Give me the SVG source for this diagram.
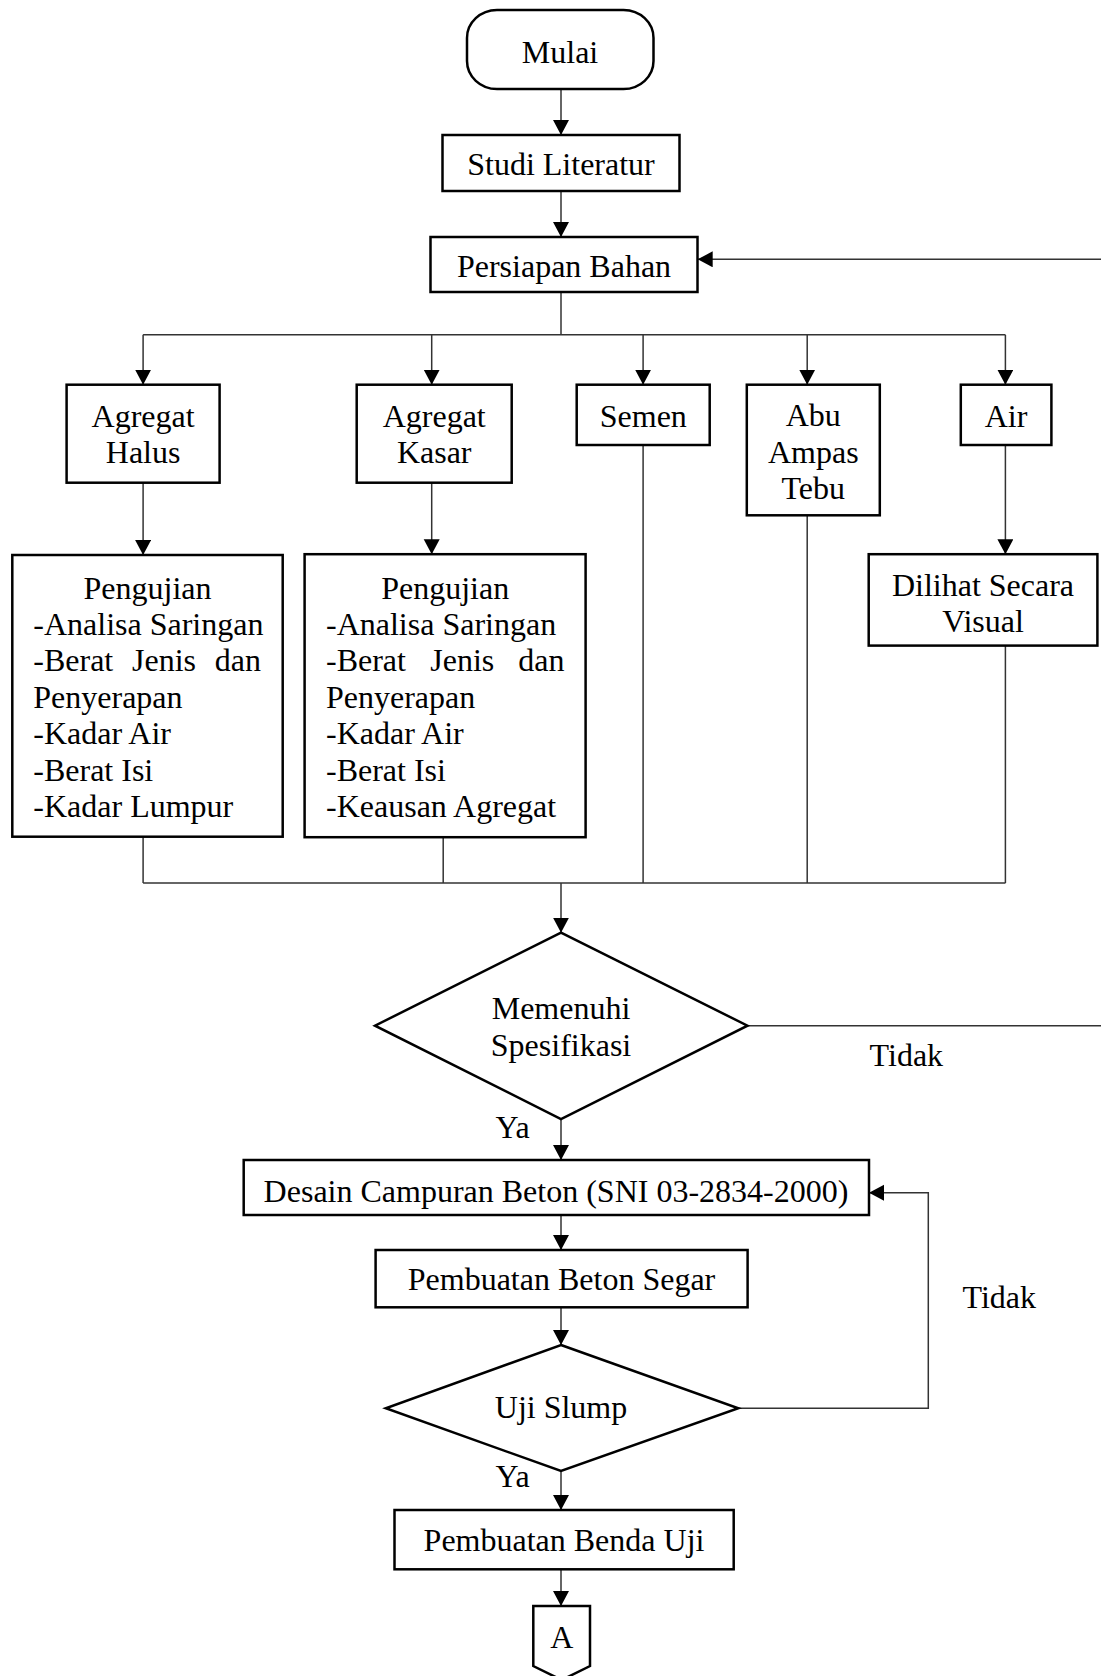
<svg xmlns="http://www.w3.org/2000/svg" width="1101" height="1676" viewBox="0 0 1101 1676">
<style>
.box{fill:#fff;stroke:#000;stroke-width:2.5}
.t{font-family:"Liberation Serif","Times New Roman",serif;font-size:32px;fill:#000}
.c{text-anchor:middle}
.e{text-anchor:end}
.ln{fill:none;stroke:#333;stroke-width:1.5}
</style>
<defs>
<marker id="ah" markerUnits="userSpaceOnUse" markerWidth="17" markerHeight="17" refX="15" refY="8" orient="auto">
<path d="M0,0 L15,8 L0,16 Z" fill="#000"/>
</marker>
</defs>
<rect width="1101" height="1676" fill="#fff"/>
<g id="connectors">
<line class="ln" x1="561" y1="89" x2="561" y2="135" marker-end="url(#ah)"/>
<line class="ln" x1="561" y1="191" x2="561" y2="237" marker-end="url(#ah)"/>
<line class="ln" x1="561" y1="292" x2="561" y2="334.8"/>
<line class="ln" x1="143.1" y1="334.8" x2="1005.4" y2="334.8"/>
<line class="ln" x1="143.1" y1="334.8" x2="143.1" y2="384.7" marker-end="url(#ah)"/>
<line class="ln" x1="431.7" y1="334.8" x2="431.7" y2="384.7" marker-end="url(#ah)"/>
<line class="ln" x1="643.1" y1="334.8" x2="643.1" y2="384.7" marker-end="url(#ah)"/>
<line class="ln" x1="807.2" y1="334.8" x2="807.2" y2="384.7" marker-end="url(#ah)"/>
<line class="ln" x1="1005.4" y1="334.8" x2="1005.4" y2="384.7" marker-end="url(#ah)"/>
<line class="ln" x1="143.1" y1="482.8" x2="143.1" y2="555" marker-end="url(#ah)"/>
<line class="ln" x1="431.7" y1="482.8" x2="431.7" y2="554.2" marker-end="url(#ah)"/>
<line class="ln" x1="1005.4" y1="445" x2="1005.4" y2="554.2" marker-end="url(#ah)"/>
<line class="ln" x1="143.1" y1="836.7" x2="143.1" y2="883.1"/>
<line class="ln" x1="443.2" y1="837.2" x2="443.2" y2="883.1"/>
<line class="ln" x1="643.1" y1="445" x2="643.1" y2="883.1"/>
<line class="ln" x1="807.2" y1="515.3" x2="807.2" y2="883.1"/>
<line class="ln" x1="1005.4" y1="645.6" x2="1005.4" y2="883.1"/>
<line class="ln" x1="143.1" y1="883.1" x2="1005.4" y2="883.1"/>
<line class="ln" x1="561" y1="883.1" x2="561" y2="932.7" marker-end="url(#ah)"/>
<path class="ln" d="M747.5,1025.7 H1115 V259.3 H697.7" marker-end="url(#ah)"/>
<line class="ln" x1="561" y1="1119" x2="561" y2="1160" marker-end="url(#ah)"/>
<line class="ln" x1="561" y1="1215" x2="561" y2="1250" marker-end="url(#ah)"/>
<line class="ln" x1="561" y1="1307.3" x2="561" y2="1345" marker-end="url(#ah)"/>
<path class="ln" d="M738.3,1408.3 H928.3 V1192.7 H869" marker-end="url(#ah)"/>
<line class="ln" x1="561" y1="1471" x2="561" y2="1510" marker-end="url(#ah)"/>
<line class="ln" x1="561" y1="1569.3" x2="561" y2="1606" marker-end="url(#ah)"/>
<text class="t" x="869.6" y="1066">Tidak</text>
<text class="t" x="495.6" y="1138.3">Ya</text>
<text class="t" x="962.5" y="1308.3">Tidak</text>
<text class="t" x="495.6" y="1486.7">Ya</text>
</g>
<g id="mulai">
<rect class="box" x="467" y="10" width="186.5" height="79" rx="30" ry="28"/>
<text class="t c" x="560" y="62.7">Mulai</text>
</g>
<g id="studi">
<rect class="box" x="442.5" y="135" width="237" height="56"/>
<text class="t c" x="561" y="175">Studi Literatur</text>
</g>
<g id="persiapan">
<rect class="box" x="430.5" y="237" width="267" height="55"/>
<text class="t c" x="564" y="277">Persiapan Bahan</text>
</g>
<g id="agregat-halus">
<rect class="box" x="66.6" y="384.7" width="153" height="98"/>
<text class="t c" x="143.1" y="427">Agregat</text>
<text class="t c" x="143.1" y="463">Halus</text>
</g>
<g id="agregat-kasar">
<rect class="box" x="356.7" y="384.7" width="155" height="98"/>
<text class="t c" x="434.2" y="427">Agregat</text>
<text class="t c" x="434.2" y="463">Kasar</text>
</g>
<g id="semen">
<rect class="box" x="576.7" y="384.7" width="133" height="60.3"/>
<text class="t c" x="643.3" y="427">Semen</text>
</g>
<g id="abu">
<rect class="box" x="746.8" y="384.7" width="133" height="130.6"/>
<text class="t c" x="813.3" y="426">Abu</text>
<text class="t c" x="813.3" y="462.5">Ampas</text>
<text class="t c" x="813.3" y="499">Tebu</text>
</g>
<g id="air">
<rect class="box" x="960.8" y="384.7" width="90.6" height="60.3"/>
<text class="t c" x="1006" y="427">Air</text>
</g>
<g id="pengujian-halus">
<rect class="box" x="12.3" y="555" width="270.4" height="281.7"/>
<text class="t c" x="147.5" y="598.5">Pengujian</text>
<text class="t" x="33.3" y="634.9">-Analisa Saringan</text>
<text class="t" y="671.3"><tspan x="33.3">-Berat</tspan><tspan x="132">Jenis</tspan><tspan x="261" text-anchor="end">dan</tspan></text>
<text class="t" x="33.3" y="707.7">Penyerapan</text>
<text class="t" x="33.3" y="744.1">-Kadar Air</text>
<text class="t" x="33.3" y="780.5">-Berat Isi</text>
<text class="t" x="33.3" y="816.9">-Kadar Lumpur</text>
</g>
<g id="pengujian-kasar">
<rect class="box" x="304.6" y="554.2" width="281" height="283"/>
<text class="t c" x="445.2" y="598.5">Pengujian</text>
<text class="t" x="326" y="634.9">-Analisa Saringan</text>
<text class="t" y="671.3"><tspan x="326">-Berat</tspan><tspan x="430.3">Jenis</tspan><tspan x="564.5" text-anchor="end">dan</tspan></text>
<text class="t" x="326" y="707.7">Penyerapan</text>
<text class="t" x="326" y="744.1">-Kadar Air</text>
<text class="t" x="326" y="780.5">-Berat Isi</text>
<text class="t" x="326" y="816.9">-Keausan Agregat</text>
</g>
<g id="dilihat">
<rect class="box" x="868.7" y="554.2" width="228.7" height="91.4"/>
<text class="t c" x="983" y="595.6">Dilihat Secara</text>
<text class="t c" x="983" y="632">Visual</text>
</g>
<g id="memenuhi">
<polygon class="box" points="561,932.7 747.5,1025.7 561,1119 375,1025.7"/>
<text class="t c" x="561" y="1019">Memenuhi</text>
<text class="t c" x="561" y="1055.7">Spesifikasi</text>
</g>
<g id="desain">
<rect class="box" x="243.7" y="1160" width="625.3" height="55"/>
<text class="t c" x="556" y="1201.7">Desain Campuran Beton (SNI 03-2834-2000)</text>
</g>
<g id="beton-segar">
<rect class="box" x="375.6" y="1250" width="372" height="57.3"/>
<text class="t c" x="561.5" y="1290">Pembuatan Beton Segar</text>
</g>
<g id="uji-slump">
<polygon class="box" points="561,1345 738.3,1408.3 561,1471 385.8,1408.3"/>
<text class="t c" x="561" y="1418.3">Uji Slump</text>
</g>
<g id="benda-uji">
<rect class="box" x="394.5" y="1510" width="339.2" height="59.3"/>
<text class="t c" x="564" y="1550.7">Pembuatan Benda Uji</text>
</g>
<g id="konektor-a">
<path class="box" d="M533.3,1606 H590 V1666 L561.7,1680 L533.3,1666 Z"/>
<text class="t c" x="561.7" y="1648">A</text>
</g>
</svg>
